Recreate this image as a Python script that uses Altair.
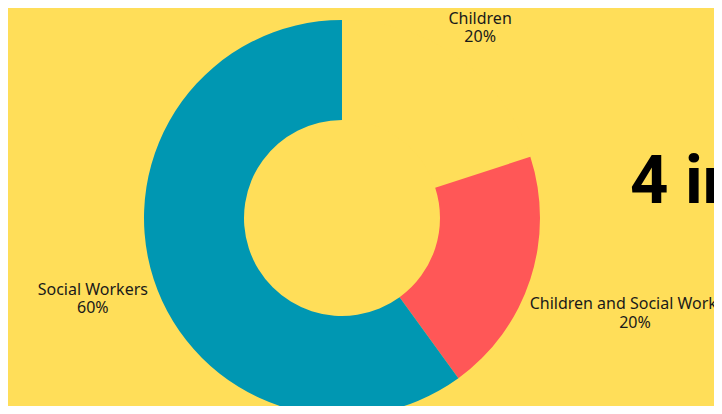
import altair as alt
import pandas as pd

categories = ["Children", "Children and Social Workers", "Social Workers"]
shares = [20, 20, 60]
colors = ["#FFDE59", "#FF5757", "#0097B2"]
headline = "4 in 5"

df = pd.DataFrame({
    "category": categories,
    "value": shares,
    "order": list(range(len(categories))),
})

BG = "#FFDE59"
CX, CY = 334, 210

arc = alt.Chart(df).mark_arc(innerRadius=98, outerRadius=198, stroke=None).encode(
    theta=alt.Theta("value:Q", stack=True),
    order=alt.Order("order:Q"),
    x=alt.value(CX),
    y=alt.value(CY),
    color=alt.Color("category:N",
                    scale=alt.Scale(domain=categories, range=colors),
                    legend=None),
)

labels = alt.Chart(df).transform_joinaggregate(
    total="sum(value)"
).transform_window(
    cum="sum(value)", sort=[alt.SortField("order")],
    frame=[None, 0],
).transform_calculate(
    label="datum.category + '\\n' + datum.value + '%'",
    lr="datum.category == 'Children' ? 235 : (datum.category == 'Social Workers' ? 262 : 308)",
    mid="(datum.cum - datum.value / 2) / datum.total * 2 * PI",
).transform_calculate(
    px=f"{CX} + datum.lr * sin(datum.mid)",
    py=f"{CY} - datum.lr * cos(datum.mid) - 9",
).mark_text(
    font="Noto Sans", fontSize=16, lineHeight=18.5, lineBreak="\n",
    color="#1a1a1a", align="center", baseline="middle",
).encode(
    text="label:N",
    x=alt.X("px:Q", scale=None, axis=None),
    y=alt.Y("py:Q", scale=None, axis=None),
)

title = alt.Chart(pd.DataFrame({"t": [headline]})).mark_text(
    font="Roboto", fontSize=67, fontWeight="bold", color="#000000",
    align="left", baseline="alphabetic",
).encode(
    text="t:N",
    x=alt.value(622),
    y=alt.value(195),
)

chart = alt.layer(arc, labels, title).properties(
    width=706, height=398, background=BG, padding=0, autosize="none",
).configure_view(stroke=None)

chart.save("out.html", embed_options={"renderer": "svg", "actions": False})
